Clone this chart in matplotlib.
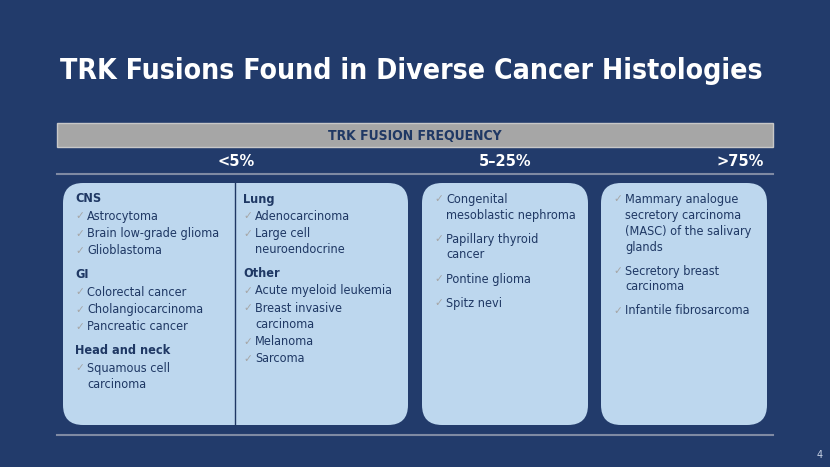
import matplotlib
matplotlib.use("Agg")
import matplotlib.pyplot as plt
from matplotlib.patches import FancyBboxPatch, Rectangle

# slide text
title = "TRK Fusions Found in Diverse Cancer Histologies"
header = "TRK FUSION FREQUENCY"
groups = ["<5%", "5\u201325%", ">75%"]
page_no = "4"

# 'h' = heading, 'i' = bullet item, 'c' = continuation of previous item
col_cns = [("h", "CNS"), ("i", "Astrocytoma"), ("i", "Brain low-grade glioma"), ("i", "Glioblastoma"),
           ("h", "GI"), ("i", "Colorectal cancer"), ("i", "Cholangiocarcinoma"), ("i", "Pancreatic cancer"),
           ("h", "Head and neck"), ("i", "Squamous cell"), ("c", "carcinoma")]
col_lung = [("h", "Lung"), ("i", "Adenocarcinoma"), ("i", "Large cell"), ("c", "neuroendocrine"),
            ("h", "Other"), ("i", "Acute myeloid leukemia"), ("i", "Breast invasive"), ("c", "carcinoma"),
            ("i", "Melanoma"), ("i", "Sarcoma")]
col_mid = [("i", "Congenital"), ("c", "mesoblastic nephroma"), ("i", "Papillary thyroid"), ("c", "cancer"),
           ("i", "Pontine glioma"), ("i", "Spitz nevi")]
col_high = [("i", "Mammary analogue"), ("c", "secretory carcinoma"), ("c", "(MASC) of the salivary"),
            ("c", "glands"), ("i", "Secretory breast"), ("c", "carcinoma"), ("i", "Infantile fibrosarcoma")]

BG = "#223b6b"
NAVY = "#1f3864"
BOX = "#bdd7ee"
GRAY = "#a6a6a6"

W, H = 830, 467
fig = plt.figure(figsize=(W / 100, H / 100), dpi=100, facecolor=BG)
ax = fig.add_axes([0, 0, 1, 1])
ax.set_xlim(0, W)
ax.set_ylim(H, 0)
ax.axis("off")
ax.set_facecolor(BG)

ax.text(411, 71, title, color="white", fontsize=20.3, fontweight="bold",
        ha="center", va="center", fontstretch="condensed")

# header bar
ax.add_patch(Rectangle((57, 123), 716, 24, facecolor=GRAY, edgecolor="#c8c8c8", lw=1))
ax.text(415, 136, header, color=NAVY, fontsize=10, fontweight="bold", ha="center", va="center",
        fontstretch="condensed")
for x, g in zip([236, 505, 740], groups):
    ax.text(x, 162, g, color="white", fontsize=10.5, fontweight="bold", ha="center", va="center")
ax.plot([57, 773], [174, 174], color="#7f8aa3", lw=1.5)
ax.plot([57, 773], [435, 435], color="#7f8aa3", lw=1.5)

# boxes
for x0, x1 in [(63, 408), (422, 588), (601, 767)]:
    ax.add_patch(FancyBboxPatch((x0 + 20, 183 + 20), x1 - x0 - 40, 242 - 40,
                                boxstyle="round,pad=20", facecolor=BOX, edgecolor="none"))
ax.plot([235, 235], [183, 425], color=NAVY, lw=1)


def draw_col(lines, x, y, item_step, fs=9.1):
    first = True
    for kind, txt in lines:
        if not first:
            if kind == "c":
                y += 16
            elif kind == "h":
                y += 24
            else:
                y += item_step
        first = False
        if kind == "h":
            ax.text(x, y, txt, color=NAVY, fontsize=fs, fontweight="bold", va="center",
                    fontstretch="condensed")
        else:
            if kind == "i":
                ax.text(x, y, "\u2713", color=GRAY, fontsize=fs - 1.5, va="center")
            ax.text(x + 12, y, txt, color=NAVY, fontsize=fs, va="center", fontstretch="condensed")


draw_col(col_cns, 75, 199, 17.3)
draw_col(col_lung, 243, 199, 17.3)
draw_col(col_mid, 434, 199, 24)
draw_col(col_high, 613, 199, 24)

ax.text(820, 455, page_no, color="#c9d3e6", fontsize=7, ha="center", va="center")

fig.savefig("out.png", dpi=100, facecolor=BG)
